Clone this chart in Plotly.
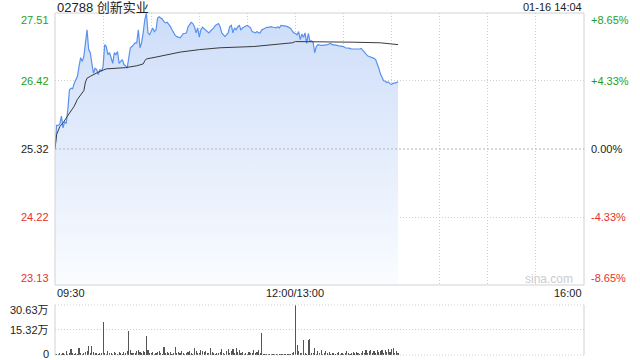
import plotly.graph_objects as go

# ---------------- data ----------------
stock_title = "02788 创新实业"
timestamp = "01-16 14:04"
prev_close = 25.32
price_ticks = [27.51, 26.42, 25.32, 24.22, 23.13]
pct_ticks = ["+8.65%", "+4.33%", "0.00%", "-4.33%", "-8.65%"]
vol_ticks = [30.63, 15.32, 0]
vol_tick_text = ["30.63万", "15.32万", "0"]
time_labels = ["09:30", "12:00/13:00", "16:00"]
time_label_minutes = [0, 150, 330]   # trading minutes since 09:30 (lunch break removed)
session_minutes = 330

# last price, one value per trading minute from 09:30
price = [
    25.32, 25.70, 25.70, 25.72, 25.85, 25.66, 25.76, 25.73, 25.95, 26.27,
    26.30, 26.29, 26.38, 26.45, 26.49, 26.65, 26.79, 26.73, 26.81, 27.03,
    27.24, 26.92, 26.87, 26.70, 26.54, 26.62, 26.60, 26.52, 26.60, 26.57,
    26.65, 27.00, 26.97, 26.84, 26.87, 26.79, 26.70, 26.87, 26.84, 26.89,
    26.70, 26.73, 26.76, 26.68, 26.66, 26.62, 26.76, 26.95, 26.97, 27.00,
    27.03, 27.03, 27.24, 26.95, 27.03, 27.19, 27.40, 27.51, 27.19, 27.16,
    27.21, 27.27, 27.21, 27.24, 27.43, 27.45, 27.43, 27.41, 27.37, 27.35,
    27.36, 27.33, 27.29, 27.24, 27.19, 27.15, 27.13, 27.12, 27.11, 27.14,
    27.18, 27.18, 27.19, 27.29, 27.33, 27.36, 27.34, 27.29, 27.19, 27.27,
    27.12, 27.24, 27.28, 27.26, 27.24, 27.21, 27.19, 27.22, 27.24, 27.27,
    27.31, 27.32, 27.34, 27.29, 27.19, 27.16, 27.13, 27.16, 27.19, 27.29,
    27.31, 27.19, 27.27, 27.24, 27.29, 27.31, 27.24, 27.27, 27.29, 27.30,
    27.31, 27.29, 27.27, 27.21, 27.20, 27.19, 27.21, 27.19, 27.19, 27.24,
    27.25, 27.27, 27.28, 27.28, 27.29, 27.29, 27.28, 27.28, 27.27, 27.29,
    27.27, 27.31, 27.31, 27.31, 27.30, 27.29, 27.28, 27.26, 27.22, 27.19,
    27.18,
    27.16, 27.21, 27.08, 27.17, 27.12, 27.19, 27.02, 27.18, 27.06,
    27.06, 27.04, 26.87, 26.97, 27.00, 26.99, 26.99, 26.99, 26.99, 26.99,
    27.00, 27.01, 27.02, 27.00, 27.00, 26.99, 26.99, 26.98, 26.98, 26.98,
    26.97, 26.95, 26.95, 26.94, 26.94, 26.93, 26.93, 26.93, 26.92, 26.92,
    26.93, 26.94, 26.91, 26.89, 26.85, 26.82, 26.81, 26.80, 26.80, 26.78,
    26.76, 26.70, 26.62, 26.53, 26.46, 26.42, 26.41, 26.39, 26.40, 26.37,
    26.36, 26.38, 26.38, 26.39, 26.40,
]

# average price line (sampled trading minutes / values)
avg_minutes = [0, 1, 3, 5, 7, 9, 11, 12, 14, 15, 17, 18, 19, 20, 22, 24, 28, 32, 38,
               44, 51, 55, 56, 57, 63, 70, 78, 90, 103, 124, 144, 148, 150, 165,
               186, 203, 209, 214]
avg_values = [25.32, 25.55, 25.68, 25.74, 25.82, 25.90, 25.96, 26.01, 26.12, 26.16,
              26.22, 26.26, 26.40, 26.46, 26.49, 26.52, 26.57, 26.61, 26.62,
              26.63, 26.66, 26.69, 26.74, 26.77, 26.80, 26.84, 26.88, 26.92, 26.95,
              26.97, 27.01, 27.03, 27.05, 27.05, 27.04, 27.03, 27.01, 27.00]

# volume per minute, in 万 shares
volume = [
    0.8, 0.5, 0.6, 1.2, 0.7, 1.5, 0.9, 2.4, 0.6, 1.0,
    3.6, 1.2, 0.8, 1.5, 0.9, 4.2, 1.3, 0.6, 1.0, 1.8,
    2.2, 5.6, 1.1, 5.6, 2.0, 1.4, 1.2, 0.8, 1.5, 1.0,
    20.5, 1.3, 0.9, 2.5, 1.1, 1.0, 0.7, 1.8, 1.2, 0.9,
    2.0, 1.4, 0.8, 1.6, 1.0, 2.2, 14.6, 2.9, 1.5, 1.0,
    1.2, 2.5, 3.0, 1.8, 1.1, 2.6, 1.9, 11.9, 3.0, 1.5,
    1.0, 2.1, 0.8, 1.2, 1.6, 2.4, 1.1, 0.9, 5.0, 1.3,
    2.0, 1.2, 1.6, 0.8, 1.5, 5.0, 1.0, 1.8, 1.2, 2.2,
    1.4, 0.9, 1.3, 1.7, 2.6, 1.1, 0.8, 4.4, 2.2, 1.0,
    1.5, 3.0, 2.2, 1.6, 2.5, 1.2, 1.0, 4.5, 2.0, 1.1,
    0.8, 1.4, 1.0, 2.0, 3.6, 1.3, 0.9, 2.6, 3.7, 1.5,
    2.4, 3.6, 1.2, 4.0, 2.1, 3.2, 1.0, 1.8, 0.9, 1.4,
    0.8, 2.0, 1.1, 1.3, 2.9, 1.0, 1.6, 3.0, 1.2, 13.3,
    0.6, 0.5, 0.7, 0.4, 0.6, 0.5, 0.8, 0.4, 0.6, 0.5,
    0.7, 0.4, 0.6, 0.5, 0.8, 0.5, 0.6, 0.9, 1.2, 2.0,
    30.63, 6.1, 2.5, 1.2, 1.0, 9.0, 1.5, 0.8, 9.2, 9.5,
    1.0, 1.4, 4.0, 0.9, 2.2, 1.2, 2.8, 0.8, 1.0, 2.5,
    1.2, 2.0, 0.7, 1.0, 1.5, 0.8, 1.1, 1.9, 0.9, 1.2,
    0.6, 1.0, 2.2, 1.4, 0.8, 1.2, 1.8, 1.0, 2.0, 1.3,
    0.9, 1.5, 2.4, 1.1, 2.8, 1.0, 2.2, 3.0, 1.4, 2.5,
    1.2, 3.0, 1.8, 2.6, 3.2, 1.1, 2.8, 2.0, 3.5, 1.6,
    3.6, 4.0, 1.5, 2.2, 1.0,
]

price_minutes = list(range(len(price)))
volume_minutes = list(range(len(volume)))

# ---------------- styling ----------------
FONT = "Liberation Sans, Arial, Noto Sans CJK SC, sans-serif"
GREEN = "#1f9e1f"
RED = "#e8302e"
BLACK = "#222222"
GRID = "#cfcfcf"
BORDER = "#d2d2d2"

fig = go.Figure()

fig.add_trace(go.Scatter(
    x=price_minutes, y=price, mode="lines",
    line=dict(color="#5a91ee", width=1.2),
    fill="tozeroy",
    fillgradient=dict(type="vertical",
                      colorscale=[[0, "rgba(250,252,255,1)"], [1, "rgba(205,221,249,1)"]],
                      start=price_ticks[-1], stop=price_ticks[0]),
    hoverinfo="skip", xaxis="x", yaxis="y",
))
fig.add_trace(go.Scatter(
    x=avg_minutes, y=avg_values, mode="lines",
    line=dict(color="#3a3a3a", width=1),
    hoverinfo="skip", xaxis="x", yaxis="y",
))
fig.add_trace(go.Bar(
    x=volume_minutes, y=volume, width=0.7,
    marker=dict(color="#555555", line=dict(width=0)),
    hoverinfo="skip", xaxis="x2", yaxis="y2",
))

fig.update_layout(
    width=640, height=360,
    margin=dict(l=55, r=56, t=13, b=5),
    paper_bgcolor="white", plot_bgcolor="white",
    showlegend=False, bargap=0,
    font=dict(family=FONT, size=11, color=BLACK),
    xaxis=dict(domain=[0, 1], range=[0, session_minutes], showticklabels=False,
               tickvals=list(range(30, session_minutes, 30)), ticks="",
               showgrid=True, gridcolor=GRID, griddash="1px,2px", gridwidth=1,
               zeroline=False, showline=False, fixedrange=True),
    yaxis=dict(domain=[0.2047, 1], range=[price_ticks[-1], price_ticks[0]],
               showticklabels=False, tickvals=[price_ticks[1], price_ticks[3]], ticks="",
               showgrid=True, gridcolor=GRID, griddash="1px,2px", gridwidth=1,
               zeroline=False, showline=False, fixedrange=True),
    xaxis2=dict(domain=[0, 1], range=[0, session_minutes], anchor="y2",
                showticklabels=False, showgrid=False, zeroline=False, ticks="",
                showline=False, fixedrange=True),
    yaxis2=dict(domain=[0, 0.1462], range=[0, vol_ticks[0]], anchor="x2",
                showticklabels=False, tickvals=[vol_ticks[1]], ticks="",
                showgrid=True, gridcolor=GRID, griddash="1px,2px", gridwidth=1,
                zeroline=False, showline=False, fixedrange=True),
)

shapes = []
# main chart border
shapes.append(dict(type="rect", xref="x domain", yref="y domain", x0=0, x1=1, y0=0, y1=1,
                   line=dict(color=BORDER, width=1), layer="above"))
# previous close line
shapes.append(dict(type="line", xref="x domain", yref="y", x0=0, x1=1,
                   y0=prev_close, y1=prev_close,
                   line=dict(color="#b5b5b5", width=1, dash="2px,2px"), layer="above"))
# volume panel borders
for yv in (0, 1):
    shapes.append(dict(type="line", xref="x2 domain", yref="y2 domain", x0=0, x1=1, y0=yv, y1=yv,
                       line=dict(color=GRID, width=1, dash="1px,2px")))
for xv in (0, 1):
    shapes.append(dict(type="line", xref="x2 domain", yref="y2 domain", x0=xv, x1=xv, y0=0, y1=1,
                       line=dict(color=BORDER, width=1)))
fig.update_layout(shapes=shapes)

ann = []
# title & timestamp
ann.append(dict(text=stock_title, xref="paper", yref="paper", x=0, y=1, xanchor="left",
                yanchor="middle", yshift=6, showarrow=False,
                font=dict(size=13, color=BLACK, family=FONT)))
ann.append(dict(text=timestamp, xref="paper", yref="paper", x=1, y=1, xanchor="right",
                yanchor="middle", yshift=6, showarrow=False,
                font=dict(size=11, color=BLACK, family=FONT)))
# price & percentage labels
for i, (v, pt) in enumerate(zip(price_ticks, pct_ticks)):
    col = GREEN if v > prev_close else (RED if v < prev_close else BLACK)
    shift = -7 if i == 0 else (7 if i == len(price_ticks) - 1 else 0)
    ann.append(dict(text=f"{v:.2f}", xref="paper", yref="y", x=0, y=v, xshift=-4,
                    yshift=shift, xanchor="right", yanchor="middle", showarrow=False,
                    font=dict(size=11, color=col, family=FONT)))
    ann.append(dict(text=pt, xref="paper", yref="y", x=1, y=v, xshift=5,
                    yshift=shift, xanchor="left", yanchor="middle", showarrow=False,
                    font=dict(size=11, color=col, family=FONT)))
# time labels
for lbl, m in zip(time_labels, time_label_minutes):
    anchor = "left" if m == 0 else ("right" if m == session_minutes else "center")
    ann.append(dict(text=lbl, xref="x", yref="y domain", x=m, y=0, yshift=-8,
                    xanchor=anchor, yanchor="middle", showarrow=False,
                    font=dict(size=11, color=BLACK, family=FONT)))
# volume labels
for v, t in zip(vol_ticks, vol_tick_text):
    shift = -5 if v == vol_ticks[0] else (1 if v == 0 else 0)
    ann.append(dict(text=t, xref="paper", yref="y2", x=0, y=v, xshift=-4, yshift=shift,
                    xanchor="right", yanchor="middle", showarrow=False,
                    font=dict(size=11, color=BLACK, family=FONT)))
# watermark
ann.append(dict(text="sina.com", xref="paper", yref="y domain", x=1, y=0, xshift=-9,
                yshift=6, xanchor="right", yanchor="middle", showarrow=False,
                font=dict(size=12, color="#cccccc", family=FONT)))
fig.update_layout(annotations=ann)

fig.write_html("out.html", config={"displayModeBar": False, "staticPlot": True})
